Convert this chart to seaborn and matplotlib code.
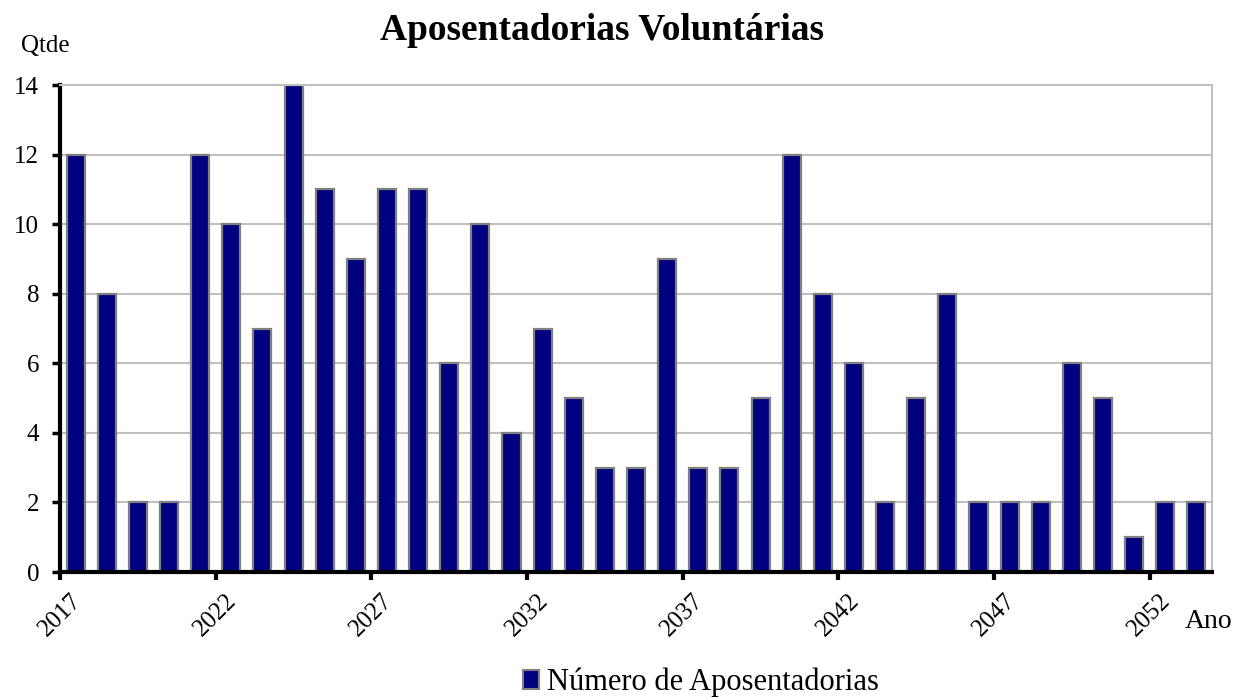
import matplotlib
matplotlib.use("Agg")
import matplotlib.pyplot as plt
import seaborn as sns
import pandas as pd
from matplotlib.patches import Patch

years = list(range(2017, 2054))
values = [12, 8, 2, 2, 12, 10, 7, 14, 11, 9, 11, 11, 6, 10, 4, 7, 5, 3, 3, 9,
          3, 3, 5, 12, 8, 6, 2, 5, 8, 2, 2, 2, 6, 5, 1, 2, 2]
tick_years = [2017, 2022, 2027, 2032, 2037, 2042, 2047, 2052]
title = "Aposentadorias Voluntárias"
series_name = "Número de Aposentadorias"

sns.set_style("white")
plt.rcParams['font.family'] = ['Liberation Serif', 'DejaVu Serif']
plt.rcParams['text.color'] = 'black'
plt.rcParams['xtick.color'] = 'black'
plt.rcParams['ytick.color'] = 'black'
plt.rcParams['axes.labelcolor'] = 'black'

df = pd.DataFrame({"Ano": [str(y) for y in years], "Qtde": values})

fig = plt.figure(figsize=(12.38, 6.98), dpi=100)
ax = fig.add_axes([0.0485, 0.1805, 0.9305, 0.6975])

sns.barplot(data=df, x="Ano", y="Qtde", color="#000080", saturation=1,
            width=0.58, edgecolor="#808080", linewidth=1.6, ax=ax)

ax.set_xlim(-0.5, len(years) - 0.5)
ax.set_ylim(0, 14)
ax.set_yticks(range(0, 15, 2))
ax.tick_params(axis='y', labelsize=18, direction='out', length=6, width=2.5,
               pad=9, left=True, colors='black')
tick_pos = [years.index(y) - 0.5 for y in tick_years]
ax.set_xticks(tick_pos)
ax.set_xticklabels([str(y) for y in tick_years], rotation=45, ha='center',
                   fontsize=18)
ax.tick_params(axis='x', direction='out', length=6, width=3, pad=7,
               bottom=True, colors='black')

ax.set_axisbelow(True)
ax.yaxis.grid(True, color="#C0C0C0", linewidth=1.5)
ax.xaxis.grid(False)

for s in ['left', 'bottom']:
    ax.spines[s].set_color('black')
    ax.spines[s].set_linewidth(3)
for s in ['right', 'top']:
    ax.spines[s].set_color('#C0C0C0')
    ax.spines[s].set_linewidth(1.5)

ax.set_xlabel("")
ax.set_ylabel("")

fig.text(0.486, 0.9427, title, ha='center', va='baseline', fontsize=27,
         fontweight='bold', color='black')
fig.text(0.017, 0.9255, "Qtde", ha='left', va='baseline', fontsize=18,
         color='black')
fig.text(0.957, 0.1003, "Ano", ha='left', va='baseline', fontsize=20,
         color='black')

handle = Patch(facecolor="#000080", edgecolor="#808080", linewidth=1.5)
leg = fig.legend([handle], [series_name], loc='center',
                 bbox_to_anchor=(0.566, 0.022), frameon=False, fontsize=22,
                 handlelength=0.55, handleheight=0.55, handletextpad=0.25,
                 borderpad=0)
for t in leg.get_texts():
    t.set_color('black')

fig.savefig("out.png", dpi=100)
